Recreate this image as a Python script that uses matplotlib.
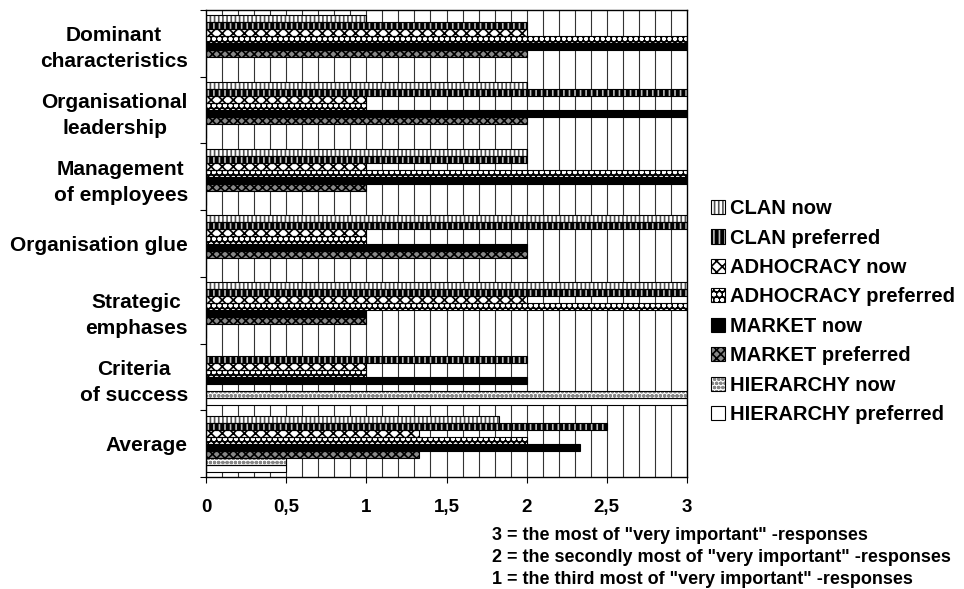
import numpy as np
import matplotlib
matplotlib.use("Agg")
import matplotlib.pyplot as plt
from matplotlib.patches import Patch

plt.rcParams['font.family'] = ['Liberation Sans', 'DejaVu Sans']
plt.rcParams['font.weight'] = 'bold'
plt.rcParams['hatch.linewidth'] = 1.2

categories = ["Dominant\ncharacteristics", "Organisational\nleadership",
              "Management\nof employees", "Organisation glue",
              "Strategic\nemphases", "Criteria\nof success", "Average"]

series = ["CLAN now", "CLAN preferred", "ADHOCRACY now", "ADHOCRACY preferred",
          "MARKET now", "MARKET preferred", "HIERARCHY now", "HIERARCHY preferred"]

# one row per category, one column per series
values = np.array([
    [1, 2, 2, 3, 3, 2, 0, 0],
    [2, 3, 1, 1, 3, 2, 0, 0],
    [2, 2, 1, 3, 3, 1, 0, 0],
    [3, 3, 1, 1, 2, 2, 0, 0],
    [3, 3, 2, 3, 1, 1, 0, 0],
    [0, 2, 1, 1, 2, 0, 3, 3],
    [1.83, 2.5, 1.33, 2.0, 2.33, 1.33, 0.5, 0.5],
])

xticks = [0, 0.5, 1, 1.5, 2, 2.5, 3]
xticklabels = ["0", "0,5", "1", "1,5", "2", "2,5", "3"]

notes = ['3 = the most of "very important" -responses',
         '2 = the secondly most of "very important" -responses',
         '1 = the third most of "very important" -responses']

# face colour, hatch colour, hatch pattern for each series
styles = [
    ("white", "#555555", "||||"),
    ("black", "#bbbbbb", "|||"),
    ("white", "black", "xxx"),
    ("black", "white", "ooo"),
    ("black", "black", ""),
    ("#888888", "black", "xxxx"),
    ("white", "#888888", "oooo"),
    ("white", "white", ""),
]

fig = plt.figure(figsize=(9.64, 5.89), dpi=100)
ax = fig.add_axes([206 / 964, 1 - 477 / 589, 481 / 964, 467 / 589])

n = len(series)
h = 0.84 / n
y = np.arange(len(categories))
handles = []
for j, (name, (fc, hc, hatch)) in enumerate(zip(series, styles)):
    pos = y + (j - (n - 1) / 2) * h
    ax.barh(pos, values[:, j], height=h, color=fc, edgecolor=hc,
            hatch=hatch, linewidth=0, zorder=2)
    ax.barh(pos, values[:, j], height=h, fill=False, edgecolor="black",
            linewidth=0.8, zorder=3)
    handles.append((Patch(facecolor=fc, edgecolor=hc, hatch=hatch, linewidth=0),
                    Patch(fill=False, edgecolor="black", linewidth=0.8)))

ax.set_xlim(0, 3)
ax.set_ylim(len(categories) - 0.5, -0.5)

# vertical grid every 0.1
for gx in np.arange(0.1, 3.0, 0.1):
    ax.axvline(gx, color="#333333", linewidth=0.8, zorder=1)

ax.set_xticks(xticks)
ax.set_xticklabels(xticklabels, fontsize=13.5, fontweight="bold")
ax.tick_params(axis="x", direction="out", length=4, pad=12)

ax.set_yticks(np.arange(len(categories) + 1) - 0.5)
ax.set_yticklabels([])
ax.set_yticks(y, minor=True)
ax.set_yticklabels(categories, minor=True, fontsize=15, fontweight="bold",
                   multialignment="center", linespacing=1.45)
ax.tick_params(axis="y", which="major", direction="out", length=4)
ax.tick_params(axis="y", which="minor", length=0, pad=13)

for s in ax.spines.values():
    s.set_color("black")
    s.set_linewidth(1.0)

leg = fig.legend(handles, series, loc="upper left",
                 bbox_to_anchor=(703 / 964, 1 - 191 / 589),
                 frameon=False, handlelength=0.7, handleheight=0.7,
                 handletextpad=0.25, labelspacing=0.52, borderaxespad=0,
                 prop={"weight": "bold", "size": 14.5})

for k, line in enumerate(notes):
    fig.text(492 / 964, 1 - (535 + 22 * k) / 589, line, fontsize=13,
             fontweight="bold", va="center", ha="left")

fig.savefig("out.png", dpi=100)
